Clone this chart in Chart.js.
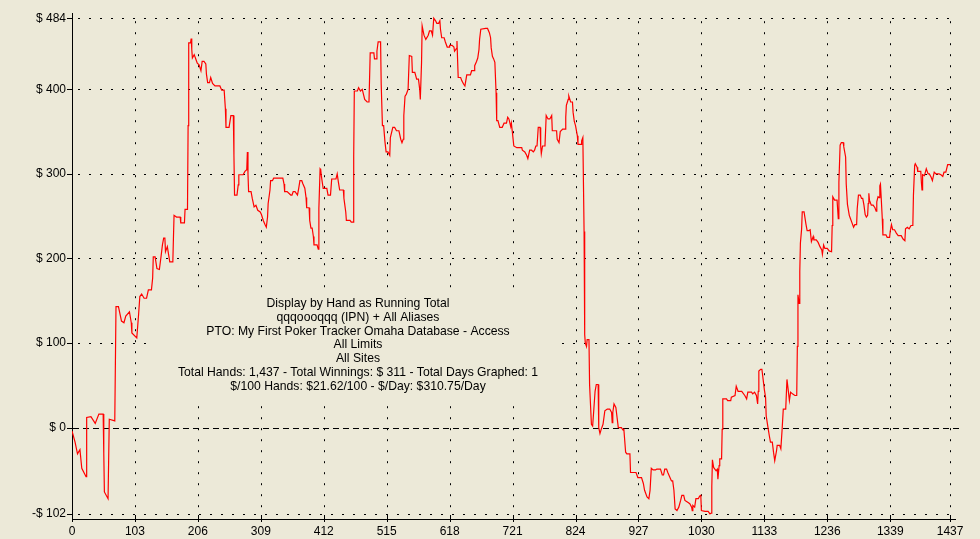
<!DOCTYPE html>
<html>
<head>
<meta charset="utf-8">
<script src="https://cdn.jsdelivr.net/npm/chart.js@4.4.1/dist/chart.umd.min.js"></script>
<style>
  html, body { margin: 0; padding: 0; background: #ece9d8; }
  canvas { display: block; }
</style>
</head>
<body>
<canvas id="winChart" width="980" height="539"></canvas>
<script>
// hand number / running total ($)
const hands = [
    0, 5, 9, 13, 16, 23, 24, 31, 38, 44,
    51, 52, 53, 59, 61, 70, 72, 76, 81, 85,
    88, 94, 97, 98, 106, 109, 111, 114, 118, 122,
    125, 130, 132, 133, 136, 139, 143, 146, 148, 150,
    152, 153, 156, 160, 165, 166, 167, 171, 177, 178,
    184, 185, 189, 190, 191, 194, 195, 196, 197, 200,
    203, 205, 208, 211, 213, 216, 219, 220, 222, 225,
    227, 230, 234, 242, 245, 249, 251, 252, 257, 260,
    264, 265, 266, 270, 272, 273, 280, 283, 286, 287,
    288, 289, 293, 295, 298, 301, 304, 308, 310, 313,
    316, 318, 320, 321, 324, 325, 328, 330, 345, 347,
    348, 352, 358, 360, 362, 365, 369, 371, 373, 376,
    378, 381, 383, 384, 388, 389, 391, 393, 395, 396,
    401, 403, 404, 406, 407, 408, 411, 417, 419, 423,
    425, 432, 434, 436, 438, 444, 445, 448, 449, 455,
    457, 460, 461, 462, 467, 469, 472, 475, 477, 479,
    483, 486, 487, 488, 494, 495, 498, 499, 501, 505,
    506, 508, 510, 512, 514, 517, 520, 521, 525, 528,
    531, 535, 538, 540, 542, 543, 545, 547, 550, 552,
    556, 557, 561, 564, 567, 569, 570, 572, 573, 576,
    579, 583, 585, 588, 590, 592, 595, 597, 600, 602,
    603, 605, 609, 611, 614, 617, 618, 622, 625, 626,
    629, 630, 631, 632, 636, 638, 641, 643, 646, 652,
    654, 658, 659, 662, 664, 666, 667, 669, 677, 680,
    683, 685, 686, 688, 690, 692, 694, 695, 697, 700,
    704, 707, 711, 713, 715, 718, 719, 721, 723, 728,
    736, 737, 741, 744, 746, 749, 752, 755, 757, 759,
    761, 763, 766, 767, 768, 770, 774, 775, 776, 779,
    782, 785, 786, 793, 794, 797, 799, 803, 807, 808,
    809, 812, 813, 816, 819, 820, 822, 824, 827, 828,
    833, 834, 836, 838, 839, 840, 842, 843, 846, 847,
    850, 852, 854, 856, 858, 861, 862, 864, 866, 869,
    872, 876, 880, 883, 884, 885, 887, 890, 892, 894,
    899, 902, 903, 906, 908, 913, 914, 923, 926, 932,
    935, 937, 941, 944, 946, 948, 951, 955, 957, 963,
    966, 968, 970, 973, 975, 978, 981, 983, 985, 987,
    990, 993, 996, 998, 1001, 1003, 1007, 1011, 1014, 1015,
    1016, 1019, 1021, 1025, 1027, 1029, 1030, 1036, 1041, 1044,
    1046, 1047, 1048, 1050, 1054, 1056, 1057, 1059, 1060, 1063,
    1064, 1065, 1071, 1073, 1078, 1079, 1085, 1087, 1090, 1096,
    1101, 1104, 1106, 1112, 1114, 1117, 1120, 1122, 1123, 1124,
    1127, 1129, 1131, 1133, 1135, 1136, 1139, 1141, 1143, 1146,
    1148, 1150, 1153, 1154, 1158, 1160, 1162, 1164, 1168, 1170,
    1172, 1174, 1176, 1179, 1183, 1186, 1187, 1188, 1190, 1191,
    1192, 1194, 1195, 1198, 1201, 1203, 1206, 1208, 1210, 1213,
    1214, 1218, 1221, 1224, 1227, 1228, 1230, 1232, 1236, 1239,
    1243, 1244, 1245, 1248, 1252, 1254, 1255, 1257, 1259, 1262,
    1263, 1266, 1267, 1269, 1272, 1274, 1276, 1279, 1281, 1284,
    1285, 1287, 1290, 1292, 1294, 1296, 1298, 1300, 1302, 1303,
    1304, 1305, 1308, 1311, 1314, 1316, 1317, 1319, 1321, 1322,
    1323, 1324, 1326, 1327, 1332, 1334, 1338, 1339, 1341, 1343,
    1346, 1349, 1352, 1357, 1360, 1363, 1364, 1367, 1370, 1373,
    1376, 1377, 1379, 1380, 1383, 1384, 1389, 1390, 1391, 1392,
    1395, 1398, 1401, 1403, 1406, 1408, 1411, 1414, 1419, 1422,
    1425, 1427, 1430, 1433, 1437
];
const winnings = [
    -4, -17, -31, -26, -48, -58, 12, 13, 5, 16,
    16, -30, -76, -84, 10, 8, 143, 143, 126, 124,
    132, 137, 124, 112, 106, 134, 155, 158, 153, 153,
    163, 163, 177, 202, 202, 188, 187, 204, 216, 224,
    224, 208, 214, 196, 196, 224, 251, 249, 249, 242,
    242, 258, 258, 357, 455, 455, 460, 447, 437, 441,
    435, 431, 429, 422, 433, 433, 430, 418, 408, 408,
    414, 407, 404, 404, 399, 399, 377, 355, 355, 369,
    369, 322, 275, 275, 287, 299, 299, 303, 305, 326,
    300, 279, 279, 271, 261, 263, 257, 255, 252, 245,
    240, 237, 249, 265, 281, 292, 292, 295, 295, 288,
    279, 279, 275, 275, 279, 279, 275, 283, 292, 292,
    288, 283, 272, 260, 260, 245, 236, 236, 226, 216,
    216, 211, 259, 306, 305, 298, 283, 283, 275, 275,
    294, 294, 300, 290, 281, 281, 271, 255, 245, 245,
    243, 243, 320, 398, 398, 402, 398, 400, 394, 388,
    385, 385, 414, 443, 443, 436, 436, 445, 456, 456,
    406, 357, 357, 339, 326, 326, 322, 343, 355, 355,
    351, 351, 341, 337, 341, 369, 392, 394, 400, 440,
    439, 420, 420, 412, 412, 400, 388, 431, 475, 464,
    459, 464, 469, 469, 464, 484, 481, 478, 478, 481,
    471, 461, 461, 456, 450, 450, 452, 452, 450, 445,
    448, 457, 435, 414, 414, 410, 406, 404, 417, 417,
    422, 422, 428, 433, 437, 447, 459, 471, 472, 472,
    467, 461, 449, 439, 436, 432, 396, 363, 363, 355,
    355, 360, 360, 367, 365, 356, 360, 347, 333, 331,
    331, 328, 326, 322, 318, 328, 328, 326, 328, 333,
    333, 355, 355, 333, 324, 333, 333, 351, 369, 365,
    365, 369, 351, 351, 341, 337, 350, 353, 353, 367,
    381, 388, 392, 385, 385, 373, 362, 357, 345, 335,
    335, 339, 343, 232, 110, 100, 96, 104, 104, 51,
    4, 2, 22, 43, 51, 51, 0, -7, -2, 4,
    20, 22, 22, 18, 6, 18, 28, 24, 12, 0,
    0, -3, -1, -29, -31, -31, -53, -53, -59, -59,
    -66, -74, -82, -84, -74, -48, -50, -50, -49, -49,
    -56, -56, -49, -49, -53, -58, -63, -63, -74, -96,
    -98, -94, -86, -80, -80, -86, -88, -90, -94, -98,
    -92, -94, -84, -84, -81, -80, -98, -99, -99, -102,
    -101, -70, -38, -47, -51, -49, -61, -45, -37, -37,
    -2, 34, 34, 32, 32, 36, 38, 49, 43, 43,
    38, 34, 42, 42, 40, 42, 38, 28, 43, 67,
    69, 69, 57, 45, 36, 14, 0, -9, -17, -17,
    -29, -39, -27, -21, -21, -25, -3, 22, 22, 57,
    45, 32, 42, 40, 38, 38, 96, 157, 147, 185,
    218, 235, 255, 255, 241, 233, 233, 234, 220, 226,
    222, 222, 219, 214, 210, 205, 216, 212, 212, 209,
    208, 239, 273, 269, 269, 247, 290, 334, 337, 337,
    332, 320, 288, 264, 251, 247, 243, 237, 240, 240,
    259, 275, 275, 271, 271, 263, 252, 249, 251, 265,
    277, 269, 263, 263, 260, 256, 267, 273, 272, 286,
    288, 275, 247, 228, 228, 225, 225, 232, 240, 234,
    234, 230, 227, 227, 223, 221, 235, 237, 235, 239,
    239, 275, 310, 312, 308, 303, 303, 290, 281, 299,
    298, 306, 300, 300, 296, 292, 302, 300, 300, 299,
    297, 302, 302, 311, 311
];

const xTicks = [0, 103, 206, 309, 412, 515, 618, 721, 824, 927, 1030, 1133, 1236, 1339, 1437];
const yTicks = [-102, 0, 100, 200, 300, 400, 484];

const infoLines = [
    'Display by Hand as Running Total',
    'qqqoooqqq (IPN) + All Aliases',
    'PTO: My First Poker Tracker Omaha Database - Access',
    'All Limits',
    'All Sites',
    'Total Hands: 1,437 - Total Winnings: $ 311 - Total Days Graphed: 1',
    '$/100 Hands: $21.62/100 - $/Day: $310.75/Day'
];

const BG = '#ece9d8';
const FONT = "'Liberation Sans', Arial, sans-serif";

function money(v) {
    return v < 0 ? '-$ ' + (-v) : '$ ' + v;
}

// dotted grid, dashed zero line, tick marks and the info box
const decor = {
    id: 'decor',
    beforeDraw(chart) {
        const c = chart.ctx;
        c.save();
        c.fillStyle = BG;
        c.fillRect(0, 0, chart.width, chart.height);
        c.restore();
    },
    beforeDatasetsDraw(chart) {
        const c = chart.ctx;
        const a = chart.chartArea;
        const xs = chart.scales.x, ys = chart.scales.y;
        c.save();
        c.fillStyle = '#000';
        // horizontal lines
        yTicks.forEach(v => {
            const py = Math.round(ys.getPixelForValue(v));
            if (v === 0) {
                for (let x = a.left + 1; x < a.right; x += 10) c.fillRect(x, py, 6, 1);
            } else {
                for (let x = a.left + 6; x < a.right; x += 11) c.fillRect(x, py, 2, 1);
            }
            c.fillRect(a.left - 5, py, 5, 1);
        });
        // vertical lines
        xTicks.forEach(v => {
            const px = Math.round(xs.getPixelForValue(v));
            if (v !== 0) {
                for (let y = a.top + 8; y < a.bottom - 2; y += 11) c.fillRect(px, y, 1, 2);
            }
            c.fillRect(px, a.bottom - 4, 1, 7);
        });
        // info box
        c.fillStyle = BG;
        c.fillRect(152, 290, 405, 112);
        c.fillStyle = '#000';
        c.font = '12.2px ' + FONT;
        c.textAlign = 'center';
        c.textBaseline = 'middle';
        infoLines.forEach((t, i) => c.fillText(t, 358, 304 + i * 13.7));
        c.restore();
    }
};

const ctx = document.getElementById('winChart').getContext('2d');
new Chart(ctx, {
    type: 'line',
    data: {
        datasets: [{
            data: hands.map((h, i) => ({x: h, y: winnings[i]})),
            borderColor: '#ff0000',
            borderWidth: 1.2,
            pointRadius: 0,
            tension: 0,
            fill: false
        }]
    },
    options: {
        responsive: false,
        animation: false,
        devicePixelRatio: 1,
        layout: {padding: {top: 10, right: 25, left: 0, bottom: 0}},
        plugins: {
            legend: {display: false},
            tooltip: {enabled: false}
        },
        scales: {
            x: {
                type: 'linear',
                min: 0,
                max: 1445,
                grid: {display: false, drawTicks: false},
                border: {display: true, color: '#000', width: 1},
                afterBuildTicks: s => { s.ticks = xTicks.map(v => ({value: v})); },
                afterFit: s => { s.height = 20; },
                ticks: {
                    autoSkip: false,
                    maxRotation: 0,
                    padding: 5,
                    color: '#000',
                    font: {family: FONT, size: 12},
                    callback: v => String(v)
                }
            },
            y: {
                min: -108,
                max: 490,
                grid: {display: false, drawTicks: false},
                border: {display: true, color: '#000', width: 1},
                afterBuildTicks: s => { s.ticks = yTicks.map(v => ({value: v})); },
                afterFit: s => { s.width = 72; },
                ticks: {
                    padding: 6,
                    color: '#000',
                    font: {family: FONT, size: 12},
                    callback: v => money(v)
                }
            }
        }
    },
    plugins: [decor]
});
</script>
</body>
</html>
